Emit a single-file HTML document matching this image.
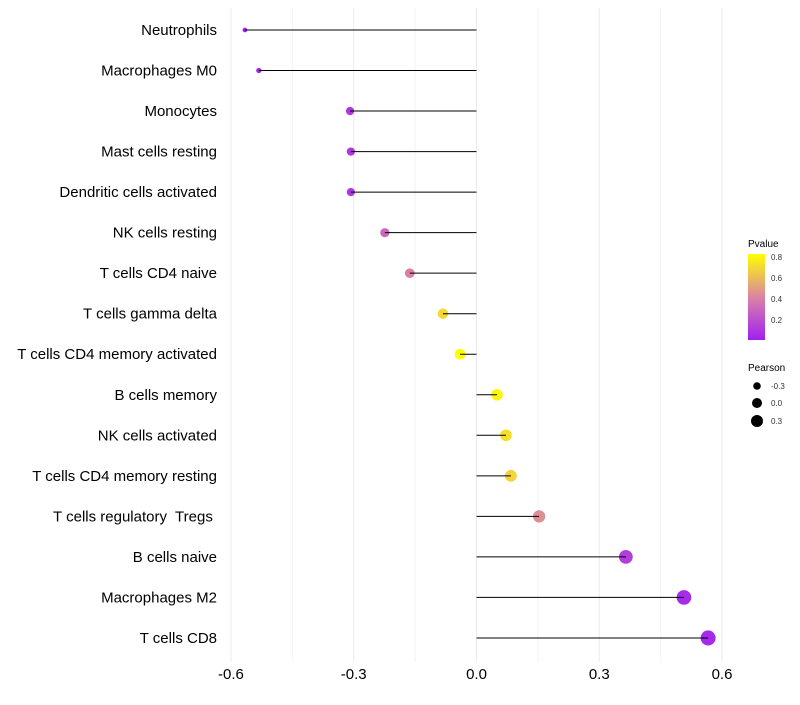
<!DOCTYPE html>
<html><head><meta charset="utf-8"><style>
body{margin:0;background:#fff;font-family:"Liberation Sans",sans-serif}
text{white-space:pre}
</style></head><body>
<svg id="chart" width="800" height="700" xmlns="http://www.w3.org/2000/svg">
<defs><linearGradient id="pg" x1="0" y1="1" x2="0" y2="0">
<stop offset="0" stop-color="#a020f0"/><stop offset="0.48" stop-color="#d980a8"/><stop offset="1" stop-color="#ffff00"/>
</linearGradient></defs>
<g id="grid"></g><g id="marks"></g><g id="stems"></g><g id="labels"></g><g id="ticks"></g>
<g>
<text x="748" y="247" font-size="10">Pvalue</text>
<rect x="748" y="254" width="17" height="86" fill="url(#pg)"/>
<text x="771" y="260" font-size="8" fill="#333">0.8</text>
<text x="771" y="302" font-size="8" fill="#333">0.4</text>
<text x="771" y="281" font-size="8" fill="#333">0.6</text>
<text x="771" y="323" font-size="8" fill="#333">0.2</text>
<text x="748" y="371" font-size="10">Pearson</text>
<circle cx="757" cy="386" r="3.8" fill="#000"/><text x="771" y="389" font-size="8" fill="#333">-0.3</text>
<circle cx="757" cy="403" r="5" fill="#000"/><text x="771" y="406" font-size="8" fill="#333">0.0</text>
<circle cx="757" cy="421" r="6" fill="#000"/><text x="771" y="424" font-size="8" fill="#333">0.3</text>
</g>
</svg>
<script>
const categories=["Neutrophils","Macrophages M0","Monocytes","Mast cells resting","Dendritic cells activated","NK cells resting","T cells CD4 naive","T cells gamma delta","T cells CD4 memory activated","B cells memory","NK cells activated","T cells CD4 memory resting","T cells regulatory  Tregs ","B cells naive","Macrophages M2","T cells CD8"];
const pearson=[-0.566,-0.532,-0.309,-0.307,-0.307,-0.224,-0.163,-0.082,-0.040,0.050,0.072,0.084,0.153,0.365,0.507,0.566];
const pvalues=[0.02,0.03,0.1,0.1,0.1,0.3,0.4,0.7,0.85,0.8,0.72,0.68,0.45,0.12,0.05,0.04];
const xticks=[-0.6,-0.3,0,0.3,0.6];
const xtickLabels=["-0.6","-0.3","0.0","0.3","0.6"];
const NS="http://www.w3.org/2000/svg";
const xs=v=>476.5+v*409.2;
const ys=i=>30+i*40.53;
function col(p){const t=Math.max(0,Math.min(1,p/0.83));const s=[[160,32,240],[217,128,168],[255,255,0]];let a,b,u;if(t<0.48){a=s[0];b=s[1];u=t/0.48}else{a=s[1];b=s[2];u=(t-0.48)/0.52}return`rgb(${a.map((c,k)=>Math.round(c+(b[k]-c)*u)).join(',')})`}
function mk(tag,at,parent){const e=document.createElementNS(NS,tag);for(const k in at)e.setAttribute(k,at[k]);document.getElementById(parent).appendChild(e);return e}
[-0.45,-0.15,0.15,0.45].forEach(v=>{const l=mk('line',{x1:xs(v),x2:xs(v),y1:8,y2:662,stroke:'#f4f4f4','stroke-width':1},'grid');

});
xticks.forEach((v,i)=>{const l=mk('line',{x1:xs(v),x2:xs(v),y1:8,y2:662,stroke:'#ebebeb','stroke-width':1},'grid');


const t=mk('text',{x:xs(v),y:679,'font-size':15,'text-anchor':'middle',fill:'#000'},'ticks');t.textContent=xtickLabels[i];

});
categories.forEach((c,i)=>{const y=ys(i);
const r=Math.sqrt(31+(pearson[i])*45);
const ci=mk('circle',{cx:xs(pearson[i]),cy:y,r:r,fill:col(pvalues[i])},'marks');


const ln=mk('line',{x1:xs(0),x2:xs(pearson[i]),y1:y,y2:y,stroke:'#000','stroke-width':1},'stems');


const t=mk('text',{x:217,y:y+5,'font-size':15,'text-anchor':'end',fill:'#000'},'labels');t.textContent=c;

});
</script>
</body></html>
